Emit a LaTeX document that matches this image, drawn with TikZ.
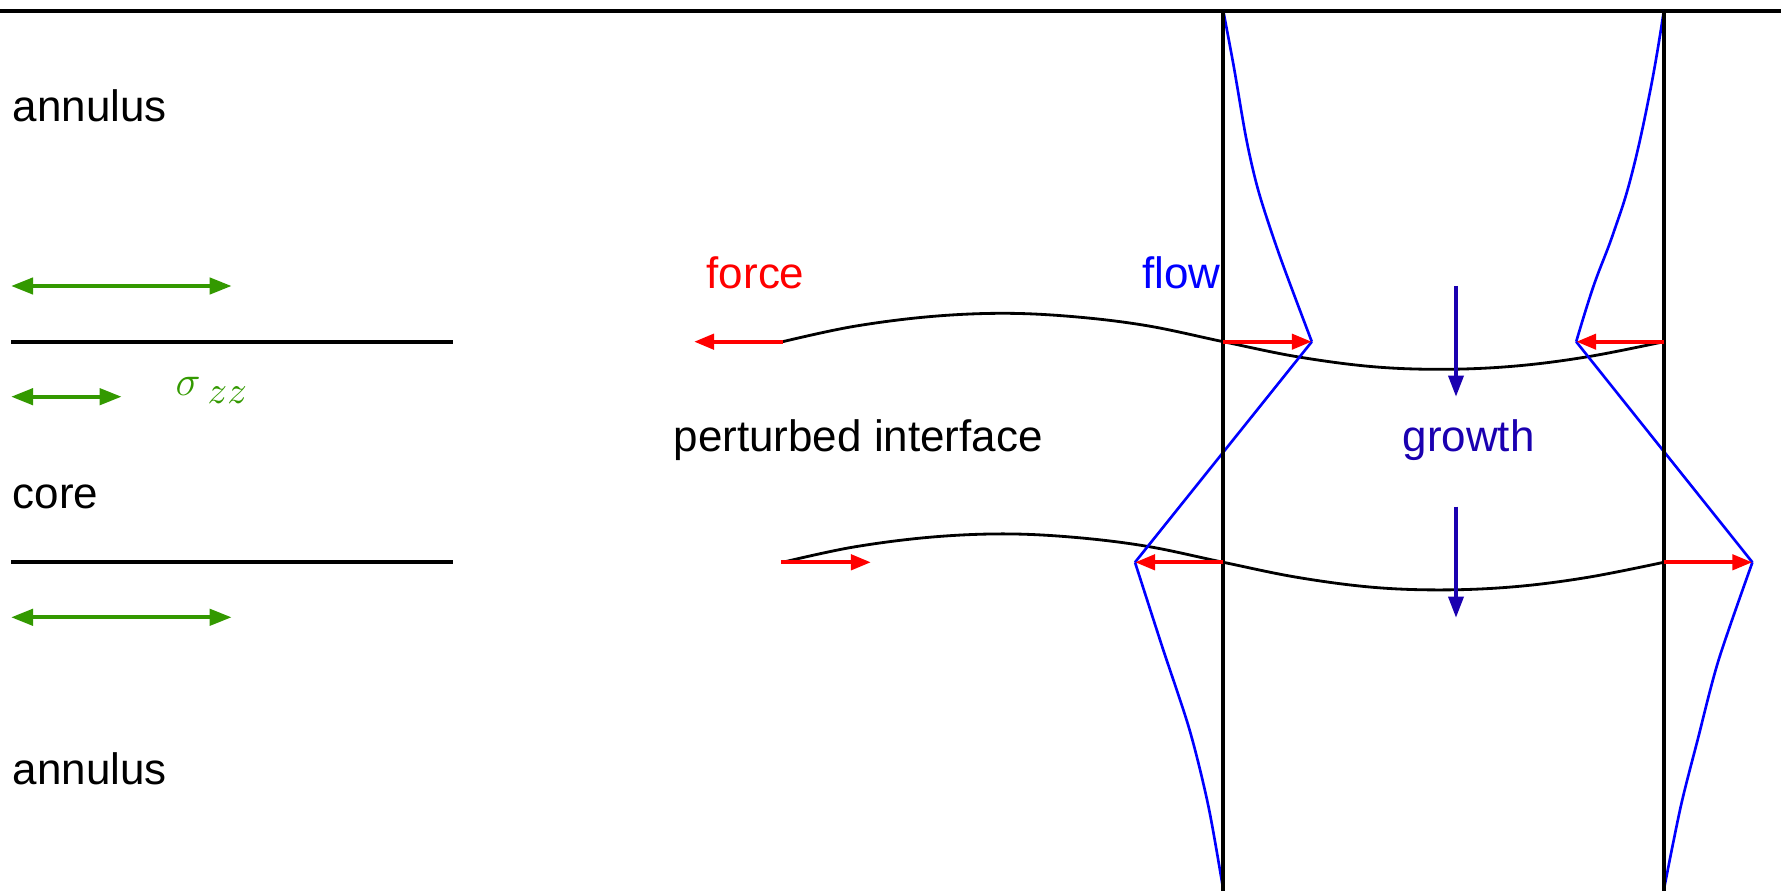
\documentclass[tikz,border=0pt]{standalone}
\usepackage{fontspec}
\setmainfont{Liberation Sans}
\usetikzlibrary{arrows.meta}
\definecolor{sgreen}{RGB}{51,153,0}
\definecolor{gblue}{RGB}{26,0,176}
\definecolor{fblue}{RGB}{0,0,255}
\definecolor{fred}{RGB}{255,0,0}
\tikzset{
  wall/.style={line width=1.1pt, black},
  iface/.style={line width=0.8pt, black},
  flowline/.style={line width=0.75pt, fblue},
  forcearrow/.style={line width=1.2pt, fred, -{Triangle[length=0.2cm,width=0.15cm]}},
  stressarrow/.style={line width=1.2pt, sgreen, {Triangle[length=0.22cm,width=0.16cm]}-{Triangle[length=0.22cm,width=0.16cm]}},
  growtharrow/.style={line width=1pt, gblue, -{Triangle[length=0.21cm,width=0.15cm]}},
  lbl/.style={inner sep=0pt, font=\fontsize{12.5}{14}\selectfont},
}
\begin{document}
\begin{tikzpicture}[x=0.01cm, y=-0.01cm]
\useasboundingbox (0,0) rectangle (1781,891);
% walls
\coordinate (tl) at (0,11);
\coordinate (tr) at (1781,11);
\coordinate (vat) at (1223.3,11);
\coordinate (vab) at (1223.3,891);
\coordinate (vbt) at (1663.8,11);
\coordinate (vbb) at (1663.8,891);
\draw[wall] (tl) -- (tr);
% left unperturbed interfaces
\coordinate (ua1) at (11,341.7);
\coordinate (ua2) at (453,341.7);
\coordinate (ub1) at (11,562.3);
\coordinate (ub2) at (453,562.3);
\draw[wall] (ua1) -- (ua2);
\draw[wall] (ub1) -- (ub2);
% stress arrows
\coordinate (s1a) at (11,286);   \coordinate (s1b) at (231.7,286);
\coordinate (s2a) at (11,396.7); \coordinate (s2b) at (121.7,396.7);
\coordinate (s3a) at (11,617.3); \coordinate (s3b) at (231.7,617.3);
\draw[stressarrow] (s1a) -- (s1b);
\draw[stressarrow] (s2a) -- (s2b);
\draw[stressarrow] (s3a) -- (s3b);
% perturbed interfaces
\foreach \dy in {0,220.6}{
  \draw[iface] plot[smooth, tension=0.6] coordinates {
    (782.6,341.7+\dy) (852,326.7+\dy) (929,316.7+\dy) (1003,313.3+\dy)
    (1074,316.7+\dy) (1147,325.7+\dy) (1223.3,341.7+\dy) (1297,356.7+\dy)
    (1373,366.7+\dy) (1444.6,369.3+\dy) (1516,366+\dy) (1588,356.7+\dy)
    (1663.8,341.7+\dy)};
}
% flow profiles
\coordinate (pa) at (1311.8,341.7);
\coordinate (pb) at (1135,562.3);
\coordinate (pc) at (1576.2,341.7);
\coordinate (pd) at (1752.4,562.3);
\draw[flowline] plot[smooth, tension=0.5] coordinates {
  (1223.3,11) (1233.8,66.7) (1246.5,140) (1259,193) (1280,256.7) (1311.8,341.7)};
\draw[flowline] (pa) -- (pb);
\draw[flowline] plot[smooth, tension=0.5] coordinates {
  (1135,562.3) (1162.2,646.7) (1189.6,730) (1208.5,806.7) (1223.3,890)};
\draw[flowline] plot[smooth, tension=0.7] coordinates {
  (1663.8,11) (1651,86.7) (1632,173.3) (1613.3,233.3) (1593.3,286.7) (1576.2,341.7)};
\draw[flowline] (pc) -- (pd);
\draw[flowline] plot[smooth, tension=0.5] coordinates {
  (1752.4,562.3) (1718.6,660) (1697.6,740) (1680.7,806.7) (1663.8,890)};
% walls on top
\draw[wall] (vat) -- (vab);
\draw[wall] (vbt) -- (vbb);
% force arrows
\coordinate (f1s) at (782.6,341.7);  \coordinate (f1e) at (694,341.7);
\coordinate (f2s) at (781.4,562.3);  \coordinate (f2e) at (871,562.3);
\coordinate (f3s) at (1223.3,341.7); 
\coordinate (f4s) at (1663.8,341.7);
\coordinate (f5s) at (1223.3,562.3);
\coordinate (f6s) at (1663.8,562.3);
\draw[forcearrow] (f1s) -- (f1e);
\draw[forcearrow] (f2s) -- (f2e);
\draw[forcearrow] (f3s) -- (pa);
\draw[forcearrow] (f4s) -- (pc);
\draw[forcearrow] (f5s) -- (pb);
\draw[forcearrow] (f6s) -- (pd);
% growth arrows
\coordinate (g1s) at (1456,286);   \coordinate (g1e) at (1456,396.7);
\coordinate (g2s) at (1456,506.6); \coordinate (g2e) at (1456,617.7);
\draw[growtharrow] (g1s) -- (g1e);
\draw[growtharrow] (g2s) -- (g2e);
% labels
\node[lbl, anchor=base west] (ann1) at (12,122) {annulus};
\node[lbl, anchor=base west] (core) at (12,508.5) {core};
\node[lbl, anchor=base west] (ann2) at (12,784) {annulus};
\node[lbl, anchor=base west, text=fred] (force) at (706,289) {force};
\node[lbl, anchor=base east, text=fblue] (flow) at (1221,289) {flow};
\node[lbl, anchor=base west] (pert) at (673,452) {perturbed interface};
\node[lbl, anchor=base west, text=gblue] (growth) at (1402,452) {growth};
\node[inner sep=0pt, anchor=base west, text=sgreen, font=\fontsize{12}{14}\selectfont] (sig) at (175,396) {$\sigma$\hspace{2pt}\raisebox{-2pt}{\fontsize{11}{13}\selectfont$z\hspace{0pt}z$}};
\end{tikzpicture}
\end{document}
